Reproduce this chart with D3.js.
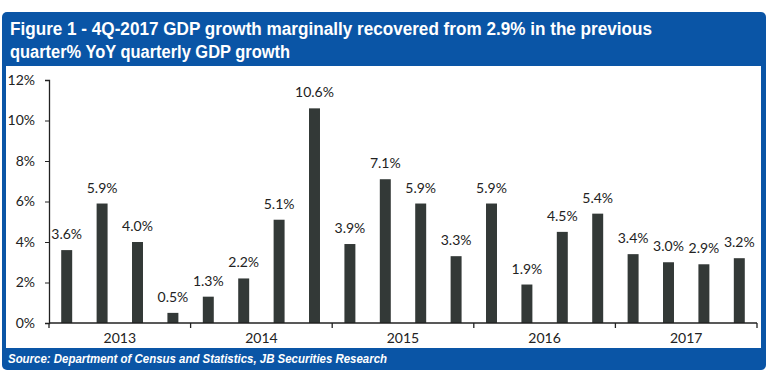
<!DOCTYPE html>
<html>
<head>
<meta charset="utf-8">
<script src="https://cdn.jsdelivr.net/npm/d3@7"></script>
<style>
  html, body { margin: 0; padding: 0; background: #fff; }
  svg { display: block; }
</style>
</head>
<body>
<svg id="chart" width="770" height="375"></svg>
<script>
"use strict";

// quarterly GDP growth, % YoY
const years = ["2013", "2014", "2015", "2016", "2017"];
const quarters = ["Q1", "Q2", "Q3", "Q4"];
const growth = [3.6, 5.9, 4.0, 0.5, 1.3, 2.2, 5.1, 10.6, 3.9, 7.1, 5.9, 3.3, 5.9, 1.9, 4.5, 5.4, 3.4, 3.0, 2.9, 3.2];
const yTicks = [0, 2, 4, 6, 8, 10, 12];

const titleLines = [
  "Figure 1 - 4Q-2017 GDP growth marginally recovered from 2.9% in the previous",
  "quarter% YoY quarterly GDP growth"
];
const titleWidths = [642, 280];
const sourceText = "Source: Department of Census and Statistics, JB Securities Research";

const BLUE = "#0a55a6";
const BAR = "#333937";

const svg = d3.select("#chart");

// frame: blue rounded box with white plot panel
svg.append("rect")
    .attr("x", 2).attr("y", 12)
    .attr("width", 764).attr("height", 358)
    .attr("rx", 5)
    .attr("fill", BLUE);
svg.append("rect")
    .attr("x", 6).attr("y", 66)
    .attr("width", 755).attr("height", 282)
    .attr("fill", "#fff");

// condensed look: squeeze a normal sans to the widths in the reference
const titleFont = "'Liberation Sans', Arial, sans-serif";

svg.selectAll("text.title")
    .data(titleLines)
  .enter().append("text")
    .attr("class", "title")
    .attr("x", 10)
    .attr("y", (d, i) => 35 + i * 23)
    .attr("fill", "#fff")
    .attr("font-family", titleFont)
    .attr("font-weight", "bold")
    .attr("font-size", 18)
    .attr("textLength", (d, i) => titleWidths[i])
    .attr("lengthAdjust", "spacingAndGlyphs")
    .text(d => d);

svg.append("text")
    .attr("x", 8)
    .attr("y", 363)
    .attr("fill", "#fff")
    .attr("font-family", titleFont)
    .attr("font-weight", "bold")
    .attr("font-style", "italic")
    .attr("font-size", 13.5)
    .attr("textLength", 379)
    .attr("lengthAdjust", "spacingAndGlyphs")
    .text(sourceText);

// plot
const x0 = 49, x1 = 757, yTop = 80, yBottom = 323;
const keys = [];
years.forEach(y => quarters.forEach(q => keys.push(y + q)));

const x = d3.scaleBand().domain(keys).range([x0, x1]).paddingInner(0.69).paddingOuter(0.345);
const xYear = d3.scaleBand().domain(years).range([x0, x1]);
const y = d3.scaleLinear().domain([0, 12]).range([yBottom, yTop]);

const labelFont = "Lato, 'Open Sans', sans-serif";

const yAxis = svg.append("g")
    .attr("transform", `translate(${x0},0)`)
    .call(d3.axisLeft(y).tickValues(yTicks).tickSize(4).tickFormat(d => d + "%"));
yAxis.select(".domain").attr("stroke", "#222").attr("stroke-width", 1.3);
yAxis.selectAll(".tick line").attr("stroke", "#222");
yAxis.selectAll(".tick text")
    .attr("x", -14)
    .attr("fill", "#222")
    .attr("font-family", labelFont)
    .attr("font-size", 14);

svg.selectAll("rect.bar")
    .data(growth)
  .enter().append("rect")
    .attr("class", "bar")
    .attr("x", (d, i) => x(keys[i]))
    .attr("y", d => y(d))
    .attr("width", x.bandwidth())
    .attr("height", d => y(0) - y(d))
    .attr("fill", BAR);

svg.selectAll("text.val")
    .data(growth)
  .enter().append("text")
    .attr("class", "val")
    .attr("x", (d, i) => x(keys[i]) + x.bandwidth() / 2)
    .attr("y", d => y(d) - 11)
    .attr("text-anchor", "middle")
    .attr("fill", "#222")
    .attr("font-family", labelFont)
    .attr("font-size", 14)
    .text(d => d.toFixed(1) + "%");

// x axis with year groups
const xAxis = svg.append("g");
xAxis.append("line")
    .attr("x1", x0).attr("x2", x1)
    .attr("y1", yBottom).attr("y2", yBottom)
    .attr("stroke", "#222").attr("stroke-width", 1.3);
xAxis.selectAll("line.tick")
    .data(years.concat(["end"]))
  .enter().append("line")
    .attr("class", "tick")
    .attr("x1", d => d === "end" ? x1 : xYear(d))
    .attr("x2", d => d === "end" ? x1 : xYear(d))
    .attr("y1", yBottom).attr("y2", yBottom + 5)
    .attr("stroke", "#222").attr("stroke-width", 1.3);
xAxis.selectAll("text")
    .data(years)
  .enter().append("text")
    .attr("x", d => xYear(d) + xYear.bandwidth() / 2)
    .attr("y", yBottom + 20)
    .attr("text-anchor", "middle")
    .attr("fill", "#222")
    .attr("font-family", labelFont)
    .attr("font-size", 14)
    .text(d => d);
</script>
</body>
</html>
